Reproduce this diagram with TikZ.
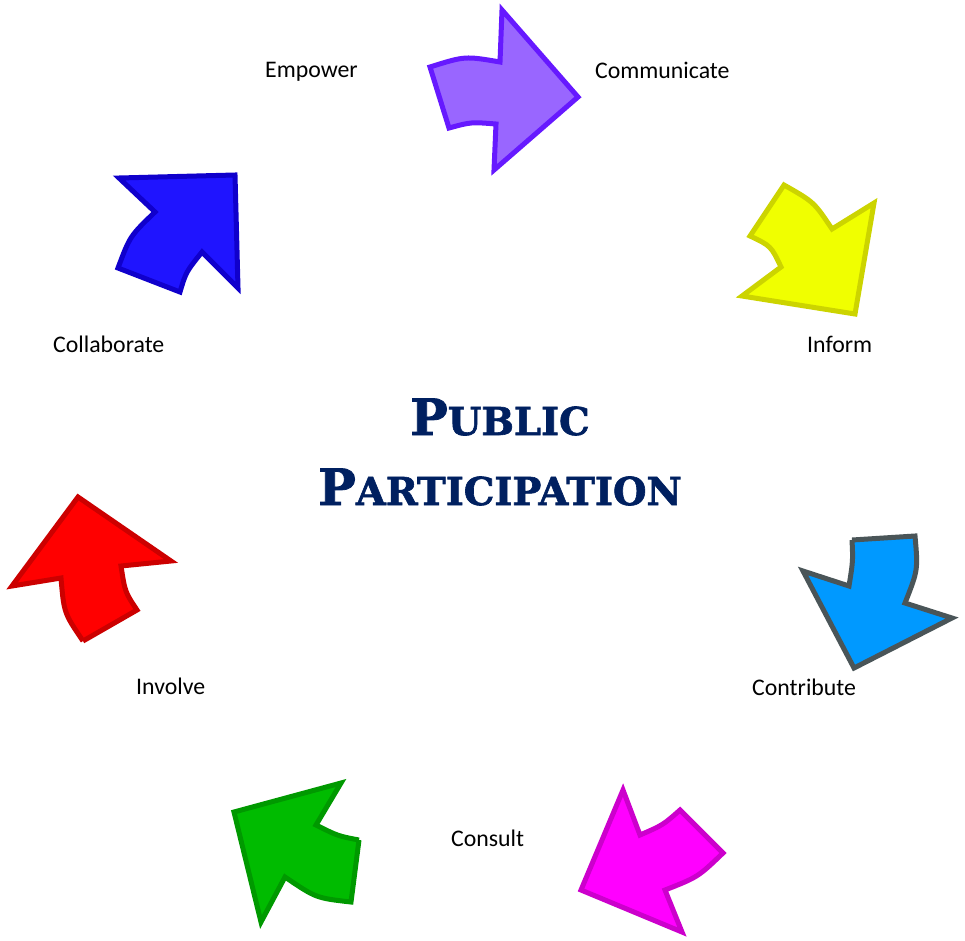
\documentclass[tikz,border=0pt]{standalone}
\usepackage{fontspec}
\setmainfont{Carlito}
\newfontfamily\titlefont{DejaVu Serif}[BoldFeatures={FakeBold=1.6}]
\definecolor{titleblue}{HTML}{002060}
\definecolor{purplefill}{HTML}{9966FF}
\definecolor{purpleline}{HTML}{6619FF}
\definecolor{yellowfill}{HTML}{F0FF00}
\definecolor{yellowline}{HTML}{CCD400}
\definecolor{bluefill}{HTML}{0099FF}
\definecolor{blueline}{HTML}{4A5558}
\definecolor{magentafill}{HTML}{FF00FF}
\definecolor{magentaline}{HTML}{CC00CC}
\definecolor{greenfill}{HTML}{00BB00}
\definecolor{greenline}{HTML}{009900}
\definecolor{redfill}{HTML}{FF0000}
\definecolor{redline}{HTML}{CC0000}
\definecolor{deepfill}{HTML}{1F14FF}
\definecolor{deepline}{HTML}{1000CC}
\begin{document}
\begin{tikzpicture}[x=1pt,y=-1pt,
  cyclearrow/.style={line width=5pt, line join=miter, miter limit=10},
  lbl/.style={anchor=base west, inner sep=0pt, font=\fontsize{23.8}{28}\selectfont},
  ttl/.style={anchor=base, inner sep=0pt, text=titleblue, font=\titlefont\bfseries}]
\useasboundingbox (0,0) rectangle (965,940);

% curved arrows around the cycle
\draw[cyclearrow, draw=purpleline, fill=purplefill]
  (430,67) .. controls (465,56) .. (500,62) -- (502,10) -- (578,97)
  -- (494,170) -- (496,124) .. controls (471,122) .. (449,128) -- cycle;
\draw[cyclearrow, draw=yellowline, fill=yellowfill]
  (784,185) .. controls (814,202) .. (832,229) -- (874,203) -- (855,314)
  -- (742,296) -- (781,267) .. controls (771,246) .. (750,236) -- cycle;
\draw[cyclearrow, draw=blueline, fill=bluefill]
  (852,540) -- (915,536) .. controls (918,570) .. (905,603) -- (952,618)
  -- (854,668) -- (803,571) -- (849,586) .. controls (853,561) .. (852,540);
\draw[cyclearrow, draw=magentaline, fill=magentafill]
  (581,890) -- (623,790) -- (640,835) .. controls (663,825) .. (680,810)
  -- (723,853) .. controls (698,877) .. (665,890) -- (682,932) -- cycle;
\draw[cyclearrow, draw=greenline, fill=greenfill]
  (359,840) -- (351,902) .. controls (316,898) .. (285,877) -- (261,922)
  -- (234,812) -- (341,783) -- (316,825) .. controls (338,836) .. (359,840);
\draw[cyclearrow, draw=redline, fill=redfill]
  (83,641) -- (137,610) .. controls (125,592) .. (121,566) -- (171,561)
  -- (78,497) -- (12,586) -- (61,578) .. controls (64,613) .. (83,641);
\draw[cyclearrow, draw=deepline, fill=deepfill]
  (119,178) -- (235,175) -- (238,288) -- (202,252) .. controls (186,272) .. (180,292)
  -- (118,268) .. controls (130,236) .. (155,212) -- cycle;

% stage labels
\node[lbl] (empower) at (265,77) {Empower};
\node[lbl] (communicate) at (595,78) {Communicate};
\node[lbl] (collaborate) at (53,352) {Collaborate};
\node[lbl] (inform) at (807,352) {Inform};
\node[lbl] (involve) at (136,694) {Involve};
\node[lbl] (contribute) at (752,695) {Contribute};
\node[lbl] (consult) at (451,846) {Consult};

% title
\node[ttl] (title1) at (500,435) {{\fontsize{50}{50}\selectfont P}{\fontsize{38.5}{38}\selectfont UBLIC}};
\node[ttl] (title2) at (500,505) {{\fontsize{50}{50}\selectfont P}{\fontsize{38.5}{38}\selectfont ARTICIPATION}};
\end{tikzpicture}
\end{document}
